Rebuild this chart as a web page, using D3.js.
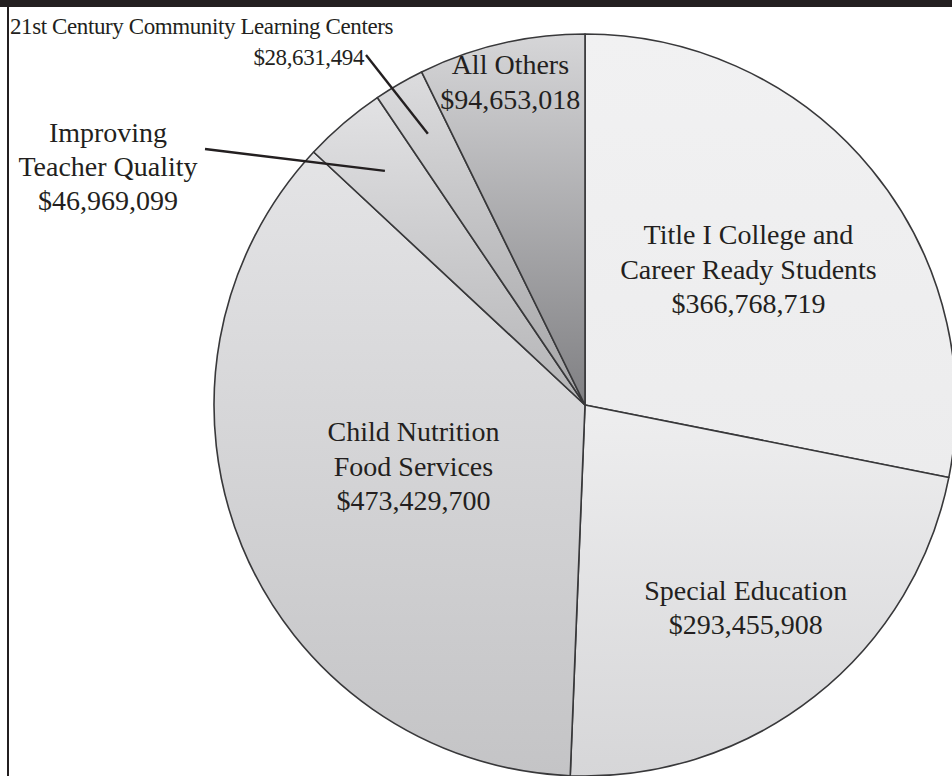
<!DOCTYPE html>
<html>
<head>
<meta charset="utf-8">
<script src="https://cdn.jsdelivr.net/npm/d3@7/dist/d3.min.js"></script>
<style>
  html, body { margin: 0; padding: 0; background: #fff; }
  svg { display: block; }
  text { font-family: "Liberation Serif", "DejaVu Serif", serif; fill: #231f20; }
</style>
</head>
<body>
<svg id="chart" width="952" height="776"></svg>
<script>
// Program funding, clockwise from 12 o'clock
const programs = [
  ["Title I College and", "Career Ready Students"],
  ["Special Education"],
  ["Child Nutrition", "Food Services"],
  ["Improving", "Teacher Quality"],
  ["21st Century Community Learning Centers"],
  ["All Others"]
];
const amounts = [366768719, 293455908, 473429700, 46969099, 28631494, 94653018];

// Vertical gradient stops (top, bottom) for each slice
const shadeTop    = ["#f1f1f2", "#eeeeef", "#e4e4e6", "#e2e2e4", "#dcdcde", "#d6d6d8"];
const shadeBottom = ["#ececed", "#d6d6d8", "#c4c4c6", "#b4b4b6", "#a4a4a6", "#808083"];

const W = 952, H = 776;
const cx = 585, cy = 405, R = 371;
const fmt = v => "$" + d3.format(",")(v);

const svg = d3.select("#chart");

// frame: black bar along the top, rule down the left side
svg.append("rect").attr("x", 0).attr("y", 0).attr("width", W).attr("height", 7).attr("fill", "#231f20");
svg.append("rect").attr("x", 7).attr("y", 0).attr("width", 2).attr("height", H).attr("fill", "#231f20");

const defs = svg.append("defs");
amounts.forEach((_, i) => {
  const g = defs.append("linearGradient").attr("id", "shade" + i)
    .attr("x1", 0).attr("y1", 0).attr("x2", 0).attr("y2", 1);
  g.append("stop").attr("offset", "0%").attr("stop-color", shadeTop[i]);
  g.append("stop").attr("offset", "100%").attr("stop-color", shadeBottom[i]);
});

const pie = d3.pie().sort(null).value(d => d)(amounts);
const arc = d3.arc().innerRadius(0).outerRadius(R);

const g = svg.append("g").attr("transform", `translate(${cx},${cy})`);

g.selectAll("path.slice").data(pie).join("path")
  .attr("class", "slice")
  .attr("d", arc)
  .attr("fill", (d, i) => `url(#shade${i})`)
  .attr("stroke", "#38383a")
  .attr("stroke-width", 1.6)
  .attr("stroke-linejoin", "round");

// label placement: radius fraction for in-slice labels (null = callout), plus a vertical nudge
const labelRadius = [0.57, 0.70, 0.50, null, null, 0.89];
const labelNudge  = [0, 0, -8, 0, 0, 0];
const lineGap = 34.5;
const bigFont = 28;
const smallFont = 23;

function polar(angle, r) {
  return [Math.sin(angle) * r, -Math.cos(angle) * r];
}

pie.forEach((d, i) => {
  const lines = programs[i].concat([fmt(amounts[i])]);
  if (labelRadius[i] !== null) {
    const mid = (d.startAngle + d.endAngle) / 2;
    const [x, y] = polar(mid, R * labelRadius[i]);
    const t = g.append("text").attr("text-anchor", "middle").attr("font-size", bigFont);
    lines.forEach((s, k) => {
      t.append("tspan").attr("x", x)
        .attr("y", y + labelNudge[i] + (k - (lines.length - 1) / 2) * lineGap + 8)
        .text(s);
    });
  }
});

// callouts for the two narrow slices
const callouts = [
  { i: 3, r: 0.83, to: [205, 149] },
  { i: 4, r: 0.845, to: [366, 55] }
];
callouts.forEach(c => {
  const d = pie[c.i];
  const mid = (d.startAngle + d.endAngle) / 2;
  const [px, py] = polar(mid, R * c.r);
  svg.append("line")
    .attr("x1", c.to[0]).attr("y1", c.to[1])
    .attr("x2", cx + px).attr("y2", cy + py)
    .attr("stroke", "#231f20").attr("stroke-width", 2.4);
});

// Improving Teacher Quality
{
  const lines = programs[3].concat([fmt(amounts[3])]);
  const t = svg.append("text").attr("text-anchor", "middle").attr("font-size", bigFont);
  lines.forEach((s, k) => t.append("tspan").attr("x", 108).attr("y", 142 + k * 34).text(s));
}

// 21st Century Community Learning Centers
svg.append("text").attr("x", 10).attr("y", 34).attr("font-size", smallFont)
  .attr("letter-spacing", -0.4)
  .text(programs[4][0]);
svg.append("text").attr("x", 364).attr("y", 65).attr("text-anchor", "end").attr("font-size", smallFont)
  .attr("letter-spacing", -0.4)
  .text(fmt(amounts[4]));
</script>
</body>
</html>
